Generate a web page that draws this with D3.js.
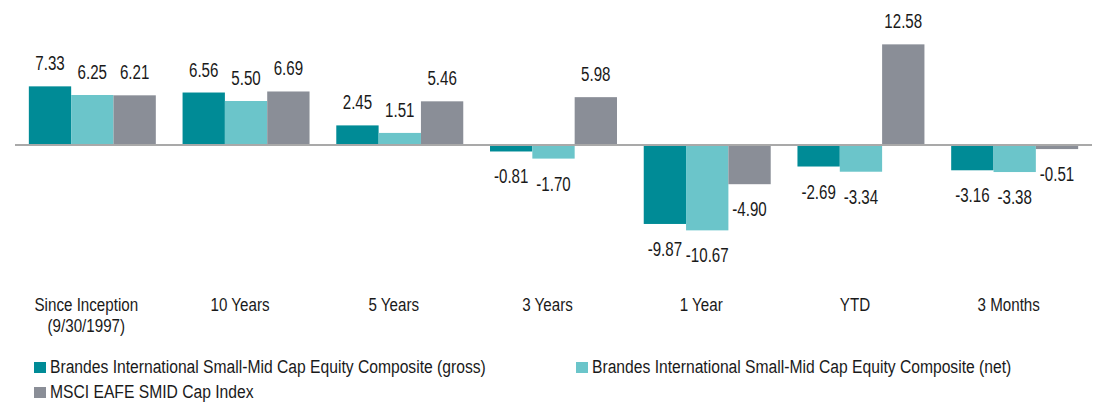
<!DOCTYPE html>
<html>
<head>
<meta charset="utf-8">
<script src="https://cdn.jsdelivr.net/npm/d3@7"></script>
<style>
  body { margin: 0; background: #fff; }
  svg text { font-family: "Liberation Sans", Arial, sans-serif; fill: #1a1a1a; }
</style>
</head>
<body>
<div id="main"></div>
<script>
const categories = ["Since Inception\n(9/30/1997)", "10 Years", "5 Years", "3 Years", "1 Year", "YTD", "3 Months"];
const seriesNames = [
  "Brandes International Small-Mid Cap Equity Composite (gross)",
  "Brandes International Small-Mid Cap Equity Composite (net)",
  "MSCI EAFE SMID Cap Index"
];
const gross = [7.33, 6.56, 2.45, -0.81, -9.87, -2.69, -3.16];
const net = [6.25, 5.50, 1.51, -1.70, -10.67, -3.34, -3.38];
const msci = [6.21, 6.69, 5.46, 5.98, -4.90, 12.58, -0.51];
const colors = ["#008b96", "#6bc5ca", "#8a8e97"];

const ctx = { W: 1103, H: 402, zeroY: 145 };

// condensed look: squeeze text horizontally around its anchor point
function narrow(sel, k, x, y) {
  return sel.attr("transform", (d, i) => `translate(${x(d, i)},${y(d, i)}) scale(${k},1)`);
}

function createViz() {
  const svg = d3.select("#main").append("svg")
    .attr("width", ctx.W).attr("height", ctx.H);

  const series = [gross, net, msci];
  const rows = [];
  categories.forEach((c, i) => {
    series.forEach((s, j) => rows.push({ cat: c, key: j, v: s[i] }));
  });

  const x0 = d3.scaleBand().domain(categories).range([15, 1092])
    .paddingInner(0.174).paddingOuter(0.09);
  const x1 = d3.scaleBand().domain([0, 1, 2]).range([0, x0.bandwidth()]);
  // 8 px per percentage point, zero at y=145
  const y = d3.scaleLinear().domain([-10.67, 12.58])
    .range([ctx.zeroY + 10.67 * 8, ctx.zeroY - 12.58 * 8]);

  svg.selectAll(".bar")
    .data(rows)
    .enter().append("rect")
    .attr("class", "bar")
    .attr("x", d => x0(d.cat) + x1(d.key))
    .attr("width", x1.bandwidth())
    .attr("y", d => Math.min(y(d.v), y(0)))
    .attr("height", d => Math.abs(y(d.v) - y(0)))
    .style("fill", d => colors[d.key]);

  svg.append("line")
    .attr("x1", 15).attr("x2", 1092)
    .attr("y1", y(0)).attr("y2", y(0))
    .style("stroke", "#a9a9a9").style("stroke-width", 2);

  narrow(svg.selectAll(".val")
    .data(rows)
    .enter().append("text")
    .attr("class", "val"), 0.72,
    d => x0(d.cat) + x1(d.key) + x1.bandwidth() / 2,
    d => d.v >= 0 ? y(d.v) - 16 : y(d.v) + 32)
    .attr("text-anchor", "middle")
    .style("font-size", "21px")
    .text(d => d.v.toFixed(2));

  // category labels
  const catG = narrow(svg.selectAll(".cat")
    .data(categories)
    .enter().append("text")
    .attr("class", "cat"), 0.82,
    d => x0(d) + x0.bandwidth() / 2 - 6,
    () => 310.5)
    .attr("text-anchor", "middle")
    .style("font-size", "18.5px");
  catG.selectAll("tspan")
    .data(d => d.split("\n"))
    .enter().append("tspan")
    .attr("x", 0)
    .attr("dy", (d, i) => i === 0 ? 0 : 22)
    .text(d => d);

  // legend
  const legX = [34, 576];
  const leg = svg.selectAll(".leg")
    .data(seriesNames)
    .enter().append("g")
    .attr("class", "leg")
    .attr("transform", (d, i) => `translate(${legX[i % 2]},${362 + Math.floor(i / 2) * 25})`);
  leg.append("rect")
    .attr("width", 12).attr("height", 11)
    .style("fill", (d, i) => colors[i]);
  narrow(leg.append("text"), 0.87, () => 16, () => 11)
    .style("font-size", "18px")
    .text(d => d);
}

createViz();
</script>
</body>
</html>
